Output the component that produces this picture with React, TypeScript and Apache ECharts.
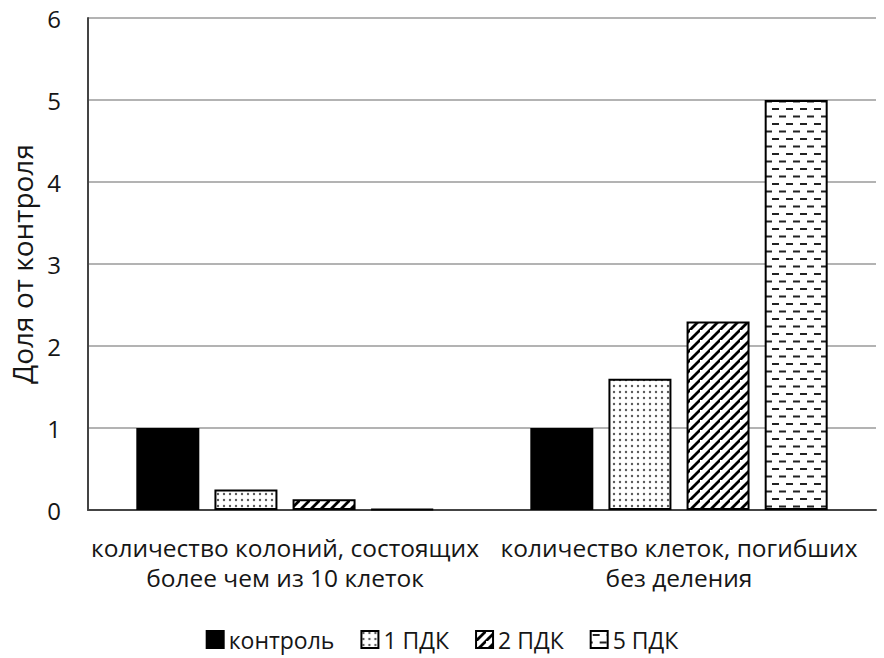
import React, { useEffect, useRef } from "react";
import * as echarts from "echarts";

const categories = [
  "количество колоний, состоящих\nболее чем из 10 клеток",
  "количество клеток, погибших\nбез деления",
];
const seriesNames = ["контроль", "1 ПДК", "2 ПДК", "5 ПДК"];
const controlValues = [1.0, 1.0];
const pdk1Values = [0.25, 1.6];
const pdk2Values = [0.13, 2.3];
const pdk5Values = [0.01, 5.0];
const yTicks = [0, 1, 2, 3, 4, 5, 6];

const FONT = "'Open Sans', 'Noto Sans', sans-serif";
const TXT = "#161616";

function makeDots() {
  const c = document.createElement("canvas");
  c.width = 6;
  c.height = 6;
  const g = c.getContext("2d")!;
  g.fillStyle = "#fff";
  g.fillRect(0, 0, 6, 6);
  g.fillStyle = "#5a5a5a";
  g.beginPath();
  g.arc(2, 2, 1.2, 0, Math.PI * 2);
  g.fill();
  return { image: c, repeat: "repeat", imageWidth: 6, imageHeight: 6 };
}

function makeDiag() {
  const s = 10;
  const c = document.createElement("canvas");
  c.width = s;
  c.height = s;
  const g = c.getContext("2d")!;
  g.fillStyle = "#fff";
  g.fillRect(0, 0, s, s);
  g.strokeStyle = "#000";
  g.lineWidth = 2.8;
  g.beginPath();
  g.moveTo(-2, s + 2);
  g.lineTo(s + 2, -2);
  g.moveTo(-2 - s, 2);
  g.lineTo(2, -2);
  g.moveTo(s - 2, s + 2);
  g.lineTo(2 * s + 2, -2);
  g.stroke();
  return { image: c, repeat: "repeat", imageWidth: s, imageHeight: s };
}

function makeDash() {
  const w = 14;
  const h = 15;
  const c = document.createElement("canvas");
  c.width = w;
  c.height = h;
  const g = c.getContext("2d")!;
  g.fillStyle = "#fff";
  g.fillRect(0, 0, w, h);
  g.fillStyle = "#222";
  g.fillRect(2, 3, 7, 2);
  g.fillRect(9, 10.5, 7, 2);
  g.fillRect(-5, 10.5, 7, 2);
  return { image: c, repeat: "repeat", imageWidth: w, imageHeight: h };
}

export default function App() {
  const ref = useRef<HTMLDivElement>(null);
  useEffect(() => {
    if (!ref.current) return;
    const chart = echarts.init(ref.current, undefined, { renderer: "svg" });
    const patterns: any[] = ["#000", makeDots(), makeDiag(), makeDash()];
    const data = [controlValues, pdk1Values, pdk2Values, pdk5Values];
    chart.setOption({
      animation: false,
      backgroundColor: "#fff",
      textStyle: { fontFamily: FONT, color: TXT },
      grid: { left: 87, right: 8, top: 18, bottom: 148, containLabel: false },
      legend: {
        top: 623,
        left: "center",
        itemWidth: 17,
        itemHeight: 17,
        itemGap: 26,
        icon: "rect",
        textStyle: { fontSize: 23, fontFamily: FONT, color: TXT },
        data: seriesNames,
      },
      xAxis: {
        type: "category",
        data: categories,
        axisLine: { show: true, lineStyle: { color: "#444", width: 2 } },
        axisTick: { show: false },
        axisLabel: {
          fontSize: 24.5,
          lineHeight: 30,
          margin: 22,
          color: TXT,
          fontFamily: FONT,
          interval: 0,
        },
      },
      yAxis: {
        type: "value",
        min: yTicks[0],
        max: yTicks[yTicks.length - 1],
        interval: 1,
        name: "Доля от контроля",
        nameLocation: "middle",
        nameGap: 52,
        nameRotate: 90,
        nameTextStyle: { fontSize: 28, color: TXT, fontFamily: FONT },
        axisLine: { show: true, lineStyle: { color: "#444", width: 2 } },
        axisTick: { show: false },
        axisLabel: { fontSize: 24, margin: 27, color: TXT, fontFamily: FONT },
        splitLine: { show: true, lineStyle: { color: "#b3b3b3", width: 2 } },
      },
      series: seriesNames.map((name, i) => ({
        name,
        type: "bar",
        data: data[i],
        barWidth: 63,
        barGap: "24%",
        itemStyle: {
          color: patterns[i],
          borderColor: "#000",
          borderWidth: 2,
        },
      })),
    });
    return () => chart.dispose();
  }, []);
  return (
    <div
      ref={ref}
      style={{ position: "absolute", left: 0, top: 0, width: 884, height: 658, background: "#fff" }}
    />
  );
}
